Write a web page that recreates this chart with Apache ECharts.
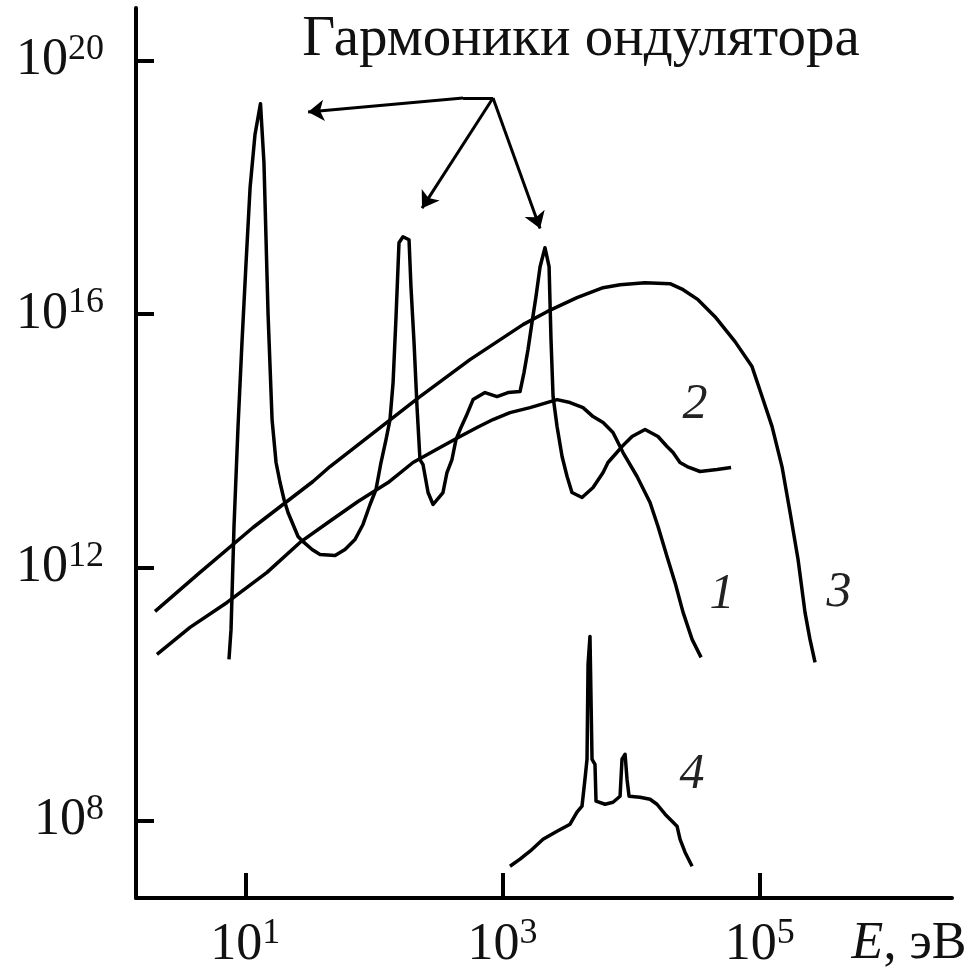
<!DOCTYPE html>
<html>
<head>
<meta charset="utf-8">
<script src="https://cdn.jsdelivr.net/npm/echarts@6/dist/echarts.min.js"></script>
<style>
  html, body { margin: 0; padding: 0; background: #fff; }
  #chart { width: 973px; height: 971px; }
</style>
</head>
<body>
<div id="chart"></div>
<script>
// Spectral brightness vs photon energy, both axes as decimal exponents (log10).
// Each point is [log10 E (eV), log10 intensity].

// exponent ticks shown on the axes
const xTickExponents = [1, 3, 5];
const yTickExponents = [8, 12, 16, 20];

// curve 1: bending magnet
const curve1 = [
  [0.313, 10.626], [0.570, 11.052], [0.858, 11.446], [1.169, 11.920],
  [1.425, 12.393], [1.643, 12.708], [1.876, 13.039], [2.110, 13.339],
  [2.304, 13.655], [2.514, 13.891], [2.670, 14.065], [2.802, 14.207],
  [2.926, 14.333], [3.058, 14.443], [3.214, 14.522], [3.424, 14.648],
  [3.525, 14.601], [3.626, 14.522], [3.704, 14.380], [3.782, 14.285],
  [3.859, 14.128], [3.937, 13.812], [4.046, 13.434], [4.147, 13.024],
  [4.209, 12.645], [4.279, 12.172], [4.341, 11.762], [4.404, 11.289],
  [4.474, 10.863], [4.544, 10.579]
];

// curve 2: undulator with its harmonics
const curve2 = [
  [0.873, 10.547], [0.889, 11.020], [0.912, 12.645], [0.943, 14.207],
  [0.974, 15.547], [1.005, 16.778], [1.037, 17.992], [1.075, 18.828],
  [1.118, 19.320], [1.145, 18.386], [1.177, 15.989], [1.208, 14.333],
  [1.239, 13.655], [1.270, 13.339], [1.301, 13.071], [1.332, 12.866],
  [1.371, 12.677], [1.410, 12.487], [1.456, 12.393], [1.519, 12.282],
  [1.581, 12.203], [1.698, 12.188], [1.775, 12.282], [1.853, 12.440],
  [1.915, 12.677], [1.970, 12.992], [2.016, 13.229], [2.055, 13.655],
  [2.094, 14.017], [2.125, 14.333], [2.149, 14.916], [2.172, 15.957],
  [2.195, 17.125], [2.226, 17.219], [2.273, 17.172], [2.288, 16.431],
  [2.312, 15.547], [2.335, 14.538], [2.358, 13.702], [2.382, 13.620],
  [2.421, 13.181], [2.460, 12.992], [2.537, 13.181], [2.568, 13.497],
  [2.607, 13.702], [2.638, 14.017], [2.670, 14.175], [2.716, 14.380],
  [2.771, 14.648], [2.864, 14.759], [2.957, 14.696], [3.043, 14.759],
  [3.136, 14.774], [3.167, 15.074], [3.198, 15.437], [3.229, 15.863],
  [3.260, 16.273], [3.292, 16.746], [3.330, 17.046], [3.362, 16.746],
  [3.377, 15.595], [3.393, 14.696], [3.424, 14.222], [3.463, 13.749],
  [3.502, 13.434], [3.540, 13.181], [3.618, 13.103], [3.704, 13.260],
  [3.782, 13.497], [3.820, 13.655], [3.875, 13.781], [3.929, 13.907],
  [4.007, 14.065], [4.108, 14.175], [4.209, 14.065], [4.279, 13.907],
  [4.326, 13.812], [4.380, 13.655], [4.435, 13.591], [4.536, 13.513],
  [4.668, 13.544], [4.777, 13.576]
];

// curve 3: wiggler
const curve3 = [
  [0.298, 11.304], [0.648, 11.920], [1.060, 12.629], [1.526, 13.355],
  [1.659, 13.591], [2.358, 14.696], [2.747, 15.279], [3.159, 15.831],
  [3.346, 16.036], [3.579, 16.257], [3.782, 16.415], [3.914, 16.462],
  [4.108, 16.494], [4.302, 16.478], [4.404, 16.383], [4.520, 16.226],
  [4.652, 15.957], [4.808, 15.563], [4.940, 15.169], [5.018, 14.696],
  [5.096, 14.222], [5.173, 13.591], [5.236, 12.866], [5.298, 12.125],
  [5.352, 11.289], [5.390, 10.870], [5.430, 10.500]
];

// curve 4: X-ray tube with characteristic lines
const curve4 = [
  [3.058, 7.282], [3.136, 7.393], [3.214, 7.519], [3.315, 7.708],
  [3.424, 7.834], [3.525, 7.945], [3.579, 8.134], [3.618, 8.229],
  [3.641, 8.655], [3.657, 8.970], [3.665, 10.468], [3.680, 10.910],
  [3.696, 8.970], [3.719, 8.891], [3.727, 8.308], [3.797, 8.260],
  [3.859, 8.292], [3.914, 8.386], [3.929, 8.970], [3.953, 9.049],
  [3.968, 8.655], [3.984, 8.386], [4.069, 8.371], [4.147, 8.339],
  [4.201, 8.260], [4.264, 8.103], [4.357, 7.913], [4.380, 7.708],
  [4.419, 7.503], [4.474, 7.282]
];

// annotation arrows pointing at the undulator harmonics
const arrowOrigin = [2.926, 19.41];
const arrowBend = [2.693, 19.41];
const arrowTargets = [[1.488, 19.19], [2.374, 17.67], [3.292, 17.35]];

const titleText = 'Гармоники ондулятора';
const curveNames = ['1', '2', '3', '4'];

const SERIF = '"Liberation Serif", "Times New Roman", "DejaVu Serif", serif';
const INK = '#000';

const chart = echarts.init(document.getElementById('chart'), null, { renderer: 'canvas' });

function lineSeries(name, data) {
  return {
    name: name,
    type: 'line',
    data: data,
    showSymbol: false,
    symbol: 'none',
    smooth: false,
    lineStyle: { color: INK, width: 3.5, join: 'round' },
    z: 3
  };
}

const richExp = {
  m: { fontFamily: SERIF, fontSize: 52, color: '#111', lineHeight: 58 },
  s: { fontFamily: SERIF, fontSize: 36, color: '#111', verticalAlign: 'top', lineHeight: 36 }
};

const option = {
  animation: false,
  backgroundColor: '#fff',
  grid: { left: 136, right: 21, top: 8, bottom: 72, containLabel: false },
  xAxis: {
    type: 'value',
    min: 0.15,
    max: 6.495,
    axisLine: { show: true, lineStyle: { color: INK, width: 4 } },
    axisTick: {
      show: true, inside: true, length: 25,
      lineStyle: { color: INK, width: 4 },
      customValues: xTickExponents
    },
    axisLabel: {
      customValues: xTickExponents,
      margin: 18,
      formatter: function (v) { return '{m|10}{s|' + v + '}'; },
      rich: richExp
    },
    splitLine: { show: false }
  },
  yAxis: {
    type: 'value',
    min: 6.78,
    max: 20.83,
    axisLine: { show: true, lineStyle: { color: INK, width: 4 } },
    axisTick: {
      show: true, inside: true, length: 18,
      lineStyle: { color: INK, width: 4 },
      customValues: yTickExponents
    },
    axisLabel: {
      customValues: yTickExponents,
      margin: 32,
      formatter: function (v) { return '{m|10}{s|' + v + '}'; },
      rich: richExp
    },
    splitLine: { show: false }
  },
  series: [
    lineSeries('1', curve1),
    lineSeries('2', curve2),
    lineSeries('3', curve3),
    lineSeries('4', curve4),
    {
      type: 'lines',
      coordinateSystem: 'cartesian2d',
      symbol: ['none', 'none'],
      lineStyle: { color: INK, width: 3, opacity: 1 },
      data: [{ coords: [arrowOrigin, arrowBend] }],
      z: 4
    },
    {
      type: 'lines',
      coordinateSystem: 'cartesian2d',
      symbol: ['none', 'arrow'],
      symbolSize: 16,
      lineStyle: { color: INK, width: 3, opacity: 1 },
      data: [
        { coords: [arrowBend, arrowTargets[0]] },
        { coords: [arrowOrigin, arrowTargets[1]] },
        { coords: [arrowOrigin, arrowTargets[2]] }
      ],
      z: 4
    }
  ],
  graphic: [
    {
      type: 'text', x: 581, y: 40, z: 10,
      style: { text: titleText, font: '57px ' + SERIF, fill: '#111', align: 'center', verticalAlign: 'middle' }
    },
    {
      type: 'text', x: 722, y: 595, z: 10,
      style: { text: curveNames[0], font: 'italic 50px ' + SERIF, fill: '#222', align: 'center', verticalAlign: 'middle' }
    },
    {
      type: 'text', x: 695, y: 405, z: 10,
      style: { text: curveNames[1], font: 'italic 50px ' + SERIF, fill: '#222', align: 'center', verticalAlign: 'middle' }
    },
    {
      type: 'text', x: 839, y: 593, z: 10,
      style: { text: curveNames[2], font: 'italic 50px ' + SERIF, fill: '#222', align: 'center', verticalAlign: 'middle' }
    },
    {
      type: 'text', x: 692, y: 775, z: 10,
      style: { text: curveNames[3], font: 'italic 50px ' + SERIF, fill: '#222', align: 'center', verticalAlign: 'middle' }
    },
    {
      type: 'text', x: 909, y: 944, z: 10,
      style: {
        text: '{i|E}{n|, эВ}',
        align: 'center', verticalAlign: 'middle',
        rich: {
          i: { fontFamily: SERIF, fontStyle: 'italic', fontSize: 52, fill: '#111', color: '#111' },
          n: { fontFamily: SERIF, fontSize: 52, fill: '#111', color: '#111' }
        }
      }
    }
  ]
};

chart.setOption(option);
</script>
</body>
</html>
